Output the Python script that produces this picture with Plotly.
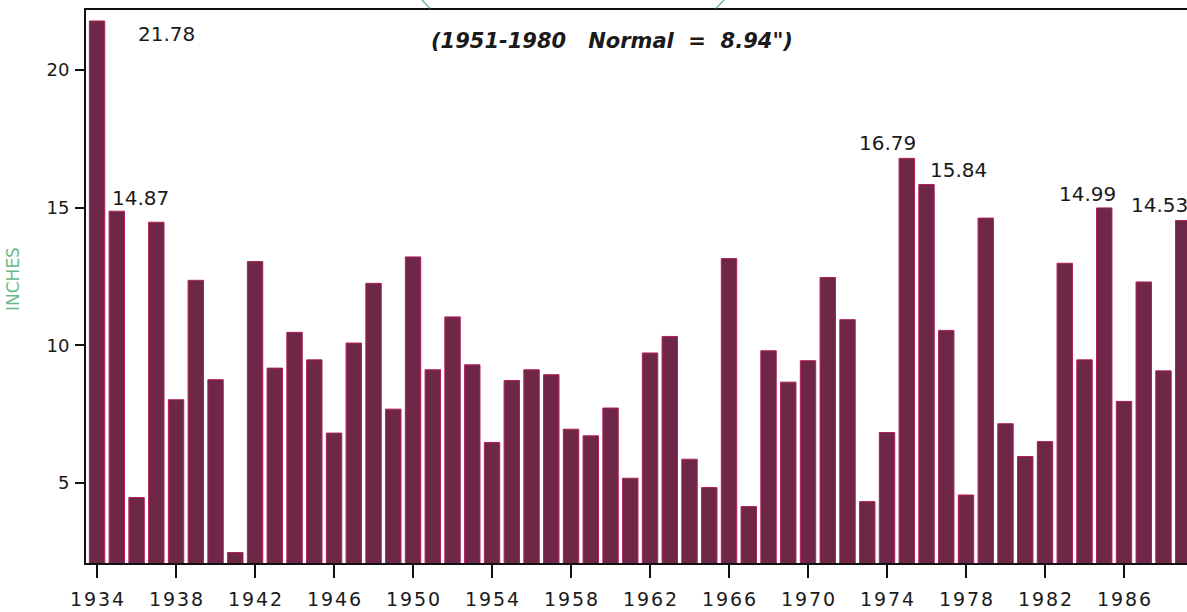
import plotly.graph_objects as go

years = list(range(1934, 1990))
inches = [
    21.78, 14.87, 4.47, 14.47, 8.02, 12.36, 8.75, 2.47, 13.04, 9.17,
    10.47, 9.47, 6.81, 10.08, 12.25, 7.68, 13.21, 9.11, 11.03, 9.29,
    6.47, 8.72, 9.11, 8.93, 6.95, 6.71, 7.72, 5.17, 9.72, 10.32,
    5.86, 4.83, 13.15, 4.14, 9.80, 8.66, 9.44, 12.46, 10.93, 4.32,
    6.83, 16.79, 15.84, 10.54, 4.56, 14.62, 7.15, 5.96, 6.50, 12.98,
    9.47, 14.99, 7.96, 12.30, 9.07, 14.53,
]
x_ticks = list(range(1934, 1987, 4))
y_ticks = [5, 10, 15, 20]
labeled_years = [1934, 1935, 1975, 1976, 1985, 1989]
label_text = ["21.78", "14.87", "16.79", "15.84", "14.99", "14.53"]
title_text = "(1951-1980\u00a0\u00a0\u00a0Normal\u00a0\u00a0=\u00a0\u00a08.94\")"

# label offsets in pixels (style, not data)
label_shift = {1934: (69, -13), 1935: (24, 13), 1975: (-19, 15),
               1976: (32, 15), 1985: (-17, 14), 1989: (-24, 16)}

fig = go.Figure()
fig.add_trace(go.Bar(
    x=years, y=inches, width=0.78,
    marker=dict(color="#6e2747", line=dict(color="#b01f58", width=1)),
    hoverinfo="x+y",
))

for yr, txt in zip(labeled_years, label_text):
    val = inches[years.index(yr)]
    dx, dy = label_shift[yr]
    fig.add_annotation(x=yr, y=val, text=txt, showarrow=False,
                       xshift=dx, yshift=dy, xanchor="center", yanchor="middle",
                       font=dict(family="DejaVu Sans", size=20, color="#1a1a1a"))

fig.add_annotation(xref="paper", yref="paper", x=(612 - 86) / 1101, y=(563 - 41) / 553,
                   text=title_text, showarrow=False, xanchor="center", yanchor="middle",
                   font=dict(family="DejaVu Sans", size=21, color="#1a1a1a",
                             weight="bold", style="italic"))

fig.add_annotation(xref="paper", yref="paper", x=(13 - 86) / 1101, y=(563 - 279) / 553,
                   text="INCHES", textangle=-90, showarrow=False,
                   xanchor="center", yanchor="middle",
                   font=dict(family="DejaVu Sans", size=17, color="#6aba88"))

# fragments of green frame above the plot
fig.add_shape(type="line", xref="paper", yref="paper",
              x0=(422 - 86) / 1101, y0=1.018, x1=(430 - 86) / 1101, y1=1.003,
              line=dict(color="#5aa88a", width=1.2))
fig.add_shape(type="line", xref="paper", yref="paper",
              x0=(724 - 86) / 1101, y0=1.018, x1=(716 - 86) / 1101, y1=1.003,
              line=dict(color="#5aa88a", width=1.2))

fig.update_layout(
    width=1187, height=612,
    margin=dict(l=86, r=0, t=10, b=49, autoexpand=False),
    paper_bgcolor="white", plot_bgcolor="white",
    showlegend=False,
    bargap=0.2,
)
fig.update_xaxes(
    range=[1933.44, 1989.19], tickvals=x_ticks,
    ticktext=["\u200a".join(str(v)) for v in x_ticks],
    showgrid=False, zeroline=False, automargin=False,
    showline=True, linecolor="#111", linewidth=2, mirror=True,
    ticks="outside", ticklen=13, tickwidth=1.5, tickcolor="#111",
    tickfont=dict(family="DejaVu Sans", size=19, color="#1a1a1a"),
    ticklabelstandoff=5,
)
fig.update_yaxes(
    range=[2.09, 22.18], tickvals=y_ticks,
    showgrid=False, zeroline=False, automargin=False,
    showline=True, linecolor="#111", linewidth=2, mirror=False,
    ticks="outside", ticklen=9, tickwidth=1.5, tickcolor="#111",
    tickfont=dict(family="DejaVu Sans", size=18, color="#1a1a1a"),
    ticklabelstandoff=2,
)

fig.write_html("out.html", config={"displayModeBar": False},
               post_script="document.body.style.margin='0';document.body.style.overflow='hidden';")
